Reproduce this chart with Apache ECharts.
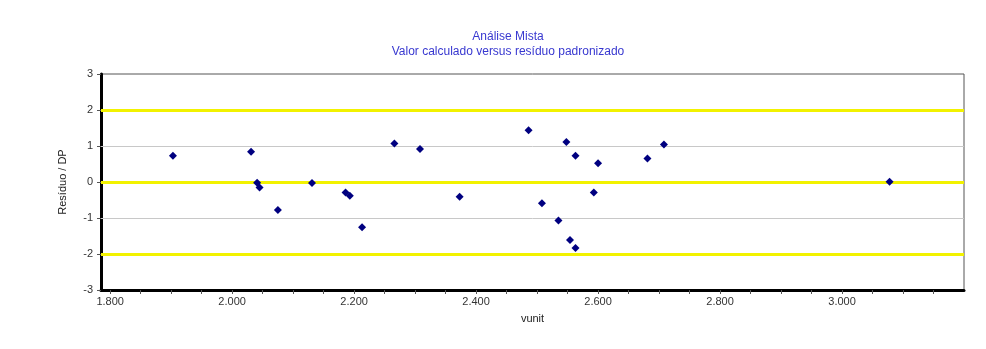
<!DOCTYPE html>
<html>
<head>
<meta charset="utf-8">
<script src="https://cdn.jsdelivr.net/npm/echarts@6/dist/echarts.min.js"></script>
<style>html,body{margin:0;padding:0;background:#fff}#c{width:986px;height:349px}</style>
</head>
<body>
<div id="c"></div>
<script>
var titleText = 'Análise Mista';
var subtitleText = 'Valor calculado versus resíduo padronizado';
var xName = 'vunit';
var yName = 'Resíduo / DP';
var xValues = [1903, 2031, 2041, 2045, 2075, 2131, 2186, 2193, 2213, 2266, 2308, 2373, 2486, 2508, 2535, 2548, 2554, 2563, 2563, 2593, 2600, 2681, 2708, 3078];
var yValues = [0.73, 0.84, -0.02, -0.15, -0.78, -0.03, -0.29, -0.38, -1.26, 1.07, 0.92, -0.41, 1.44, -0.59, -1.07, 1.11, -1.61, 0.73, -1.83, -0.29, 0.52, 0.65, 1.04, 0.01];
var xLabelValues = [1800, 2000, 2200, 2400, 2600, 2800, 3000];
var xTickValues = [1800,1850,1900,1950,2000,2050,2100,2150,2200,2250,2300,2350,2400,2450,2500,2550,2600,2650,2700,2750,2800,2850,2900,2950,3000,3050,3100,3150];
var yellowLines = [2, 0, -2];
var grayLines = [1, -1];

var points = xValues.map(function (x, i) { return [x, yValues[i]]; });
function fmt(v) {
  var s = String(Math.round(v));
  return s.replace(/\B(?=(\d{3})+(?!\d))/g, '.');
}
var chart = echarts.init(document.getElementById('c'), null, {renderer: 'canvas'});
chart.setOption({
  animation: false,
  backgroundColor: '#ffffff',
  textStyle: {fontFamily: 'Liberation Sans, Arial, sans-serif'},
  title: {
    text: titleText,
    subtext: subtitleText,
    left: 503, top: 26, textAlign: 'center',
    itemGap: 3,
    textStyle: {color: '#3838d0', fontSize: 12, fontWeight: 'normal', fontFamily: 'Liberation Sans, Arial, sans-serif'},
    subtextStyle: {color: '#3838d0', fontSize: 12, fontFamily: 'Liberation Sans, Arial, sans-serif'}
  },
  grid: {left: 101, right: 22, top: 74, bottom: 59, show: true, borderColor: '#555555', borderWidth: 1, backgroundColor: '#ffffff'},
  xAxis: {
    type: 'value', min: 1785, max: 3200,
    name: xName, nameLocation: 'middle', nameGap: 23,
    nameTextStyle: {color: '#222', fontSize: 11},
    axisLine: {show: true, onZero: false, lineStyle: {color: '#000', width: 3}},
    axisTick: {show: true, customValues: xTickValues, length: 4, lineStyle: {color: '#555'}},
    axisLabel: {customValues: xLabelValues, formatter: fmt, color: '#333', fontSize: 11, margin: 6},
    splitLine: {show: false}
  },
  yAxis: {
    type: 'value', min: -3, max: 3, interval: 1,
    name: yName, nameLocation: 'middle', nameGap: 33, nameRotate: 90,
    nameTextStyle: {color: '#222', fontSize: 11},
    axisLine: {show: true, onZero: false, lineStyle: {color: '#000', width: 3}},
    axisTick: {show: true, length: 4, lineStyle: {color: '#555'}},
    axisLabel: {color: '#333', fontSize: 11, margin: 8},
    splitLine: {show: false}
  },
  series: [
    {
      type: 'scatter', symbol: 'diamond', symbolSize: 8,
      itemStyle: {color: '#000080', opacity: 1},
      data: points, z: 5,
      markLine: {
        silent: true, symbol: 'none', label: {show: false},
        lineStyle: {type: 'solid'},
        data: yellowLines.map(function (v) { return {yAxis: v, lineStyle: {color: '#f2f200', width: 3, type: 'solid'}}; })
          .concat(grayLines.map(function (v) { return {yAxis: v, lineStyle: {color: '#c8c8c8', width: 1, type: 'solid'}}; }))
      }
    }
  ]
});
</script>
</body>
</html>
